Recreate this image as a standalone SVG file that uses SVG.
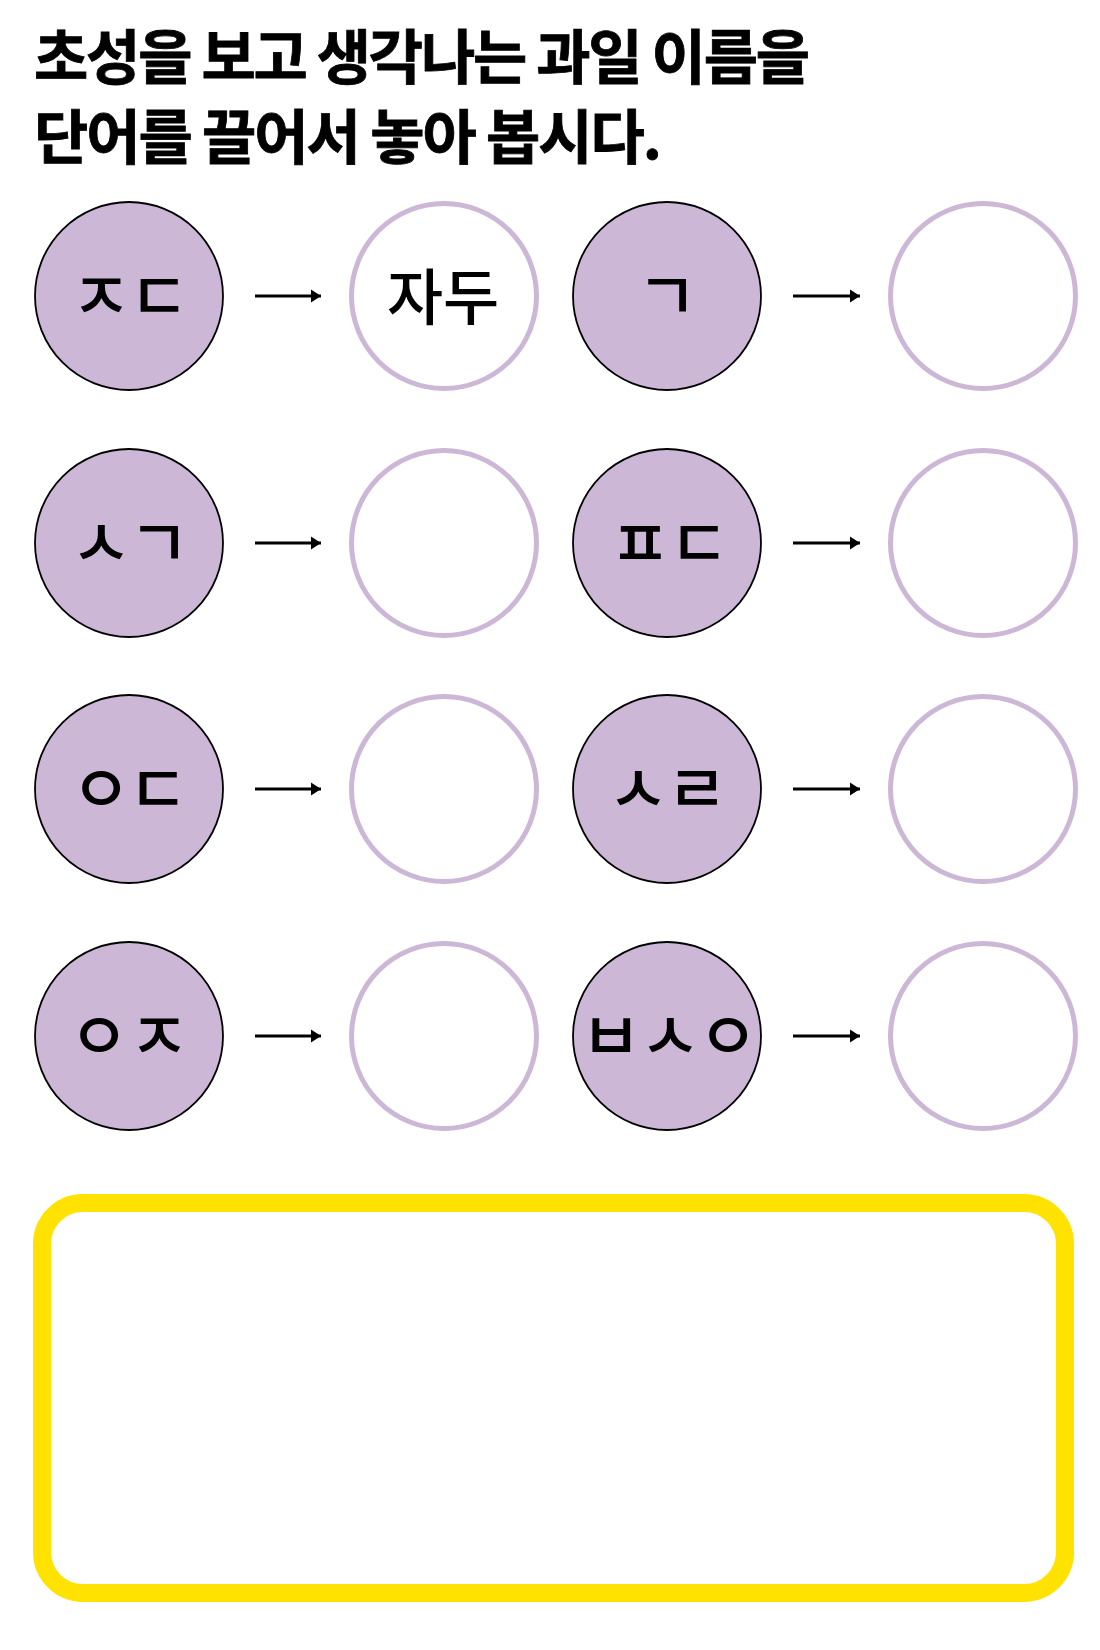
<svg xmlns="http://www.w3.org/2000/svg" width="1100" height="1650" viewBox="0 0 1100 1650">
<style>
.title{font-family:"Noto Sans CJK KR","Noto Sans CJK SC",sans-serif;font-weight:700;font-size:59px;fill:#000;stroke:#000;stroke-width:0.8}
.hint{fill:#CDB7D6;stroke:#000;stroke-width:1.8}
.slot{fill:#fff;stroke:#CDB7D6;stroke-width:5}
.jamo{font-family:"Noto Sans CJK KR","Noto Sans CJK SC",sans-serif;font-weight:500;font-size:66px;fill:#000;text-anchor:middle}
.ans{font-family:"Noto Sans CJK KR","Noto Sans CJK SC",sans-serif;font-weight:500;font-size:61px;fill:#000;text-anchor:middle}
.arrow{stroke:#000;stroke-width:3;fill:none}
</style>
<defs>
<marker id="ah" markerUnits="userSpaceOnUse" markerWidth="12" markerHeight="14" refX="10" refY="7" orient="auto">
<path d="M0,0.5 L10,7 L0,13.5 Z" fill="#000"/>
</marker>
</defs>
<rect width="1100" height="1650" fill="#fff"/>
<g id="title">
<text class="title" x="34" y="79" textLength="776" lengthAdjust="spacing">초성을 보고 생각나는 과일 이름을</text>
<text class="title" x="34" y="159" textLength="628" lengthAdjust="spacing">단어를 끌어서 놓아 봅시다.</text>
</g>
<g id="connectors">
<line class="arrow" x1="255" y1="296" x2="321" y2="296" marker-end="url(#ah)"/>
<line class="arrow" x1="793" y1="296" x2="860" y2="296" marker-end="url(#ah)"/>
<line class="arrow" x1="255" y1="543" x2="321" y2="543" marker-end="url(#ah)"/>
<line class="arrow" x1="793" y1="543" x2="860" y2="543" marker-end="url(#ah)"/>
<line class="arrow" x1="255" y1="789" x2="321" y2="789" marker-end="url(#ah)"/>
<line class="arrow" x1="793" y1="789" x2="860" y2="789" marker-end="url(#ah)"/>
<line class="arrow" x1="255" y1="1036" x2="321" y2="1036" marker-end="url(#ah)"/>
<line class="arrow" x1="793" y1="1036" x2="860" y2="1036" marker-end="url(#ah)"/>
</g>
<g id="hint-1"><circle class="hint" cx="129" cy="296" r="94"/><text class="jamo" x="101 130 159" y="320">ㅈ ㄷ</text></g>
<g id="answer-1"><circle class="slot" cx="444" cy="296" r="92.5"/><text class="ans" x="443" y="320">자두</text></g>
<g id="hint-2"><circle class="hint" cx="667" cy="296" r="94"/><text class="jamo" x="667" y="320">ㄱ</text></g>
<g id="answer-2"><circle class="slot" cx="983" cy="296" r="92.5"/></g>
<g id="hint-3"><circle class="hint" cx="129" cy="543" r="94"/><text class="jamo" x="101 130 159" y="567">ㅅ ㄱ</text></g>
<g id="answer-3"><circle class="slot" cx="444" cy="543" r="92.5"/></g>
<g id="hint-4"><circle class="hint" cx="667" cy="543" r="94"/><text class="jamo" x="640 669 699" y="567">ㅍ ㄷ</text></g>
<g id="answer-4"><circle class="slot" cx="983" cy="543" r="92.5"/></g>
<g id="hint-5"><circle class="hint" cx="129" cy="789" r="94"/><text class="jamo" x="101 130 158" y="813">ㅇ ㄷ</text></g>
<g id="answer-5"><circle class="slot" cx="444" cy="789" r="92.5"/></g>
<g id="hint-6"><circle class="hint" cx="667" cy="789" r="94"/><text class="jamo" x="638 667 697" y="813">ㅅ ㄹ</text></g>
<g id="answer-6"><circle class="slot" cx="983" cy="789" r="92.5"/></g>
<g id="hint-7"><circle class="hint" cx="129" cy="1036" r="94"/><text class="jamo" x="99 129 159" y="1060">ㅇ ㅈ</text></g>
<g id="answer-7"><circle class="slot" cx="444" cy="1036" r="92.5"/></g>
<g id="hint-8"><circle class="hint" cx="667" cy="1036" r="94"/><text class="jamo" x="611 640 670 699 728" y="1060">ㅂ ㅅ ㅇ</text></g>
<g id="answer-8"><circle class="slot" cx="983" cy="1036" r="92.5"/></g>
<g id="drop-box"><rect x="42" y="1203" width="1023" height="390" rx="41" ry="41" fill="#fff" stroke="#FFE200" stroke-width="18"/></g>
</svg>
